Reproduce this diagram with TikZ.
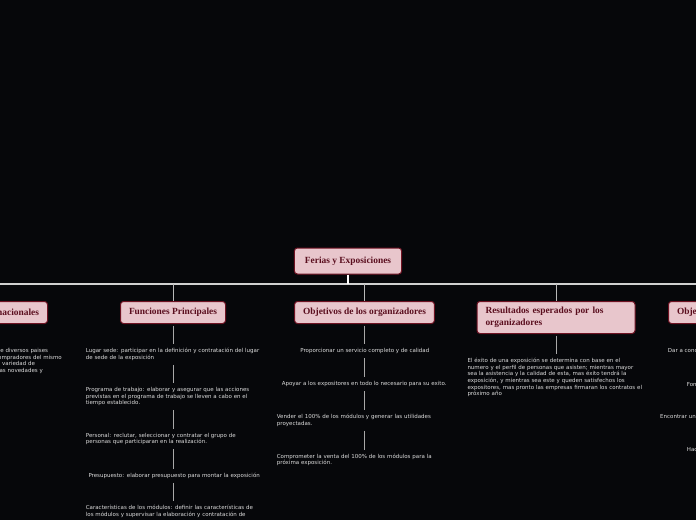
\documentclass[tikz,border=0pt]{standalone}
\usepackage{fontspec}
\setmainfont{Liberation Serif}
\newfontfamily\notefont{DejaVu Sans}
\definecolor{bg}{HTML}{06070A}
\definecolor{nodefill}{HTML}{E8C6CC}
\definecolor{nodedraw}{HTML}{6E1222}
\definecolor{nodetext}{HTML}{5A0E1E}
\definecolor{notec}{HTML}{DCDCDC}
\definecolor{hlinec}{HTML}{D0D0D0}
\definecolor{dropc}{HTML}{B8B8B8}
\definecolor{vlinec}{HTML}{A8A8A8}
\tikzset{
  topic/.style={draw=nodedraw, line width=1pt, fill=nodefill, rounded corners=3pt,
    text=nodetext, font=\fontsize{9.4}{11.6}\selectfont\bfseries,
    inner xsep=8.5pt, inner ysep=0pt, minimum height=22pt},
  roottopic/.style={topic, inner xsep=10.5pt, minimum height=26pt},
  note/.style={text=notec, font=\fontsize{5.5}{6.6}\selectfont\notefont,
    inner xsep=0pt, inner ysep=4pt},
  noteblock/.style={note, text width=200pt, align=left, anchor=west},
  hline/.style={draw=hlinec, line width=1.1pt},
  drop/.style={draw=dropc, line width=1pt},
  stem/.style={draw=white, line width=2pt},
  vline/.style={draw=vlinec, line width=0.9pt},
}
\begin{document}
\begin{tikzpicture}[x=1pt,y=-1pt]
\useasboundingbox (0,0) rectangle (696,520);
\fill[bg] (0,0) rectangle (696,520);
\clip (0,0) rectangle (696,520);

% main topic and subtopics
\node[roottopic] (root) at (348,261) {Ferias y Exposiciones};
\node[topic, anchor=east] (c0) at (48,312.5) {Ferias Internacionales};
\node[topic] (c1) at (173,312.5) {Funciones Principales};
\node[topic] (c2) at (364.5,312.5) {Objetivos de los organizadores};
\node[topic, text width=141pt, align=left, minimum height=32pt] (c3) at (556,317.5)
  {Resultados esperados por los\\organizadores};
\node[topic, anchor=west] (c4) at (668,312.5) {Objetivos de los expositores};

\coordinate (hub) at (348,284);
\draw[hline] (hub -| c0.north) -- (hub -| c4.north);
\foreach \c in {c0,c1,c2,c3,c4} {\draw[drop] (hub -| \c.north) -- (\c.north);}
\draw[stem] (root.south) -- (hub);

% left column
\node[noteblock] (l1) at (-101.5,361) {Evento donde participan empresas de diversos paises\\con el fin de encontrar a todos los compradores del mismo\\giro y ofreciendo al público una gran variedad de\\productos y dando a conocer todas las novedades y};
\draw[vline, shorten <=1.5pt] (c0.south) -- (l1.north -| c0.south);

% Funciones Principales
\node[noteblock] (f1) at (85.7,354.5) {Lugar sede: participar en la definición y contratación del lugar\\de sede de la exposición};
\node[noteblock] (f2) at (85.7,396.6) {Programa de trabajo: elaborar y asegurar que las acciones\\previstas en el programa de trabajo se lleven a cabo en el\\tiempo establecido.};
\node[noteblock] (f3) at (85.7,439) {Personal: reclutar, seleccionar y contratar el grupo de\\personas que participaran en la realización.};
\node[noteblock] (f4) at (88.3,476) {Presupuesto: elaborar presupuesto para montar la exposición};
\node[noteblock] (f5) at (85.7,511.3) {Características de los módulos: definir las características de\\los módulos y supervisar la elaboración y contratación de};
\draw[vline, shorten <=1.5pt] (c1.south) -- (f1.north -| c1.south);
\draw[vline] (f1.south -| c1.south) -- (f2.north -| c1.south);
\draw[vline] (f2.south -| c1.south) -- (f3.north -| c1.south);
\draw[vline] (f3.south -| c1.south) -- (f4.north -| c1.south);
\draw[vline] (f4.south -| c1.south) -- (f5.north -| c1.south);

% Objetivos de los organizadores
\node[note] (o1) at (364.8,351) {Proporcionar un servicio completo y de calidad};
\node[note] (o2) at (364.2,384.3) {Apoyar a los expositores en todo lo necesario para su exito.};
\node[noteblock] (o3) at (276.7,420.3) {Vender el 100\% de los módulos y generar las utilidades\\proyectadas.};
\node[noteblock] (o4) at (276.7,460) {Comprometer la venta del 100\% de los módulos para la\\próxima exposición.};
\draw[vline, shorten <=1.5pt] (c2.south) -- (o1.north -| c2.south);
\draw[vline] (o1.south -| c2.south) -- (o2.north -| c2.south);
\draw[vline] (o2.south -| c2.south) -- (o3.north -| c2.south);
\draw[vline] (o3.south -| c2.south) -- (o4.north -| c2.south);

% Resultados esperados
\node[noteblock] (r1) at (467.3,377.5) {El éxito de una exposición se determina con base en el\\numero y el perfil de personas que asisten; mientras mayor\\sea la asistencia y la calidad de esta, mas éxito tendrá la\\exposición, y mientras sea este y queden satisfechos los\\expositores, mas pronto las empresas firmaran los contratos el\\próximo año};
\draw[vline, shorten <=1.5pt] (c3.south) -- (r1.north -| c3.south);

% Objetivos de los expositores
\node[note, anchor=west] (e1) at (667.7,351) {Dar a conocer sus productos y servicios al público};
\node[note, anchor=west] (e2) at (686.7,384) {Fomentar las ventas};
\node[note, anchor=west] (e3) at (660,416.7) {Encontrar un nuevo mercado};
\node[note, anchor=west] (e4) at (686.7,450) {Hacer contactos};
\draw[vline, shorten <=1.5pt] (c4.south) -- (e1.north -| c4.south);
\draw[vline] (e1.south -| c4.south) -- (e2.north -| c4.south);
\draw[vline] (e2.south -| c4.south) -- (e3.north -| c4.south);
\draw[vline] (e3.south -| c4.south) -- (e4.north -| c4.south);
\end{tikzpicture}
\end{document}
